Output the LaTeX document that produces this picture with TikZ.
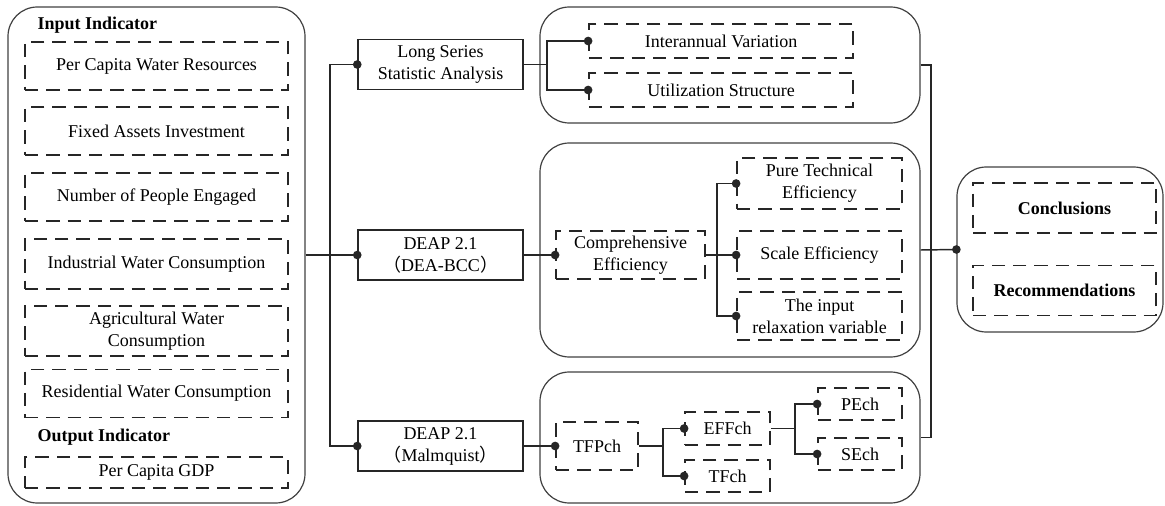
\documentclass[tikz,border=0pt]{standalone}
\usepackage{fontspec}
\setmainfont{Liberation Serif}
\newfontfamily\cjk{Noto Sans CJK SC}
\usetikzlibrary{calc}
\begin{document}
\begin{tikzpicture}[x=0.75pt,y=-0.75pt,
  font=\fontsize{13.5}{16.5}\selectfont,
  grp/.style={draw=black!75, line width=0.9pt, rounded corners=22pt, inner sep=0pt},
  dbox/.style={draw=black!85, line width=1.3pt, dash pattern=on 10pt off 6pt, align=center, inner sep=2pt},
  sbox/.style={draw=black!85, line width=1.1pt, align=center, inner sep=2pt},
  conn/.style={line width=1.1pt, black!85},
  jdot/.style={circle, fill=black!85, inner sep=0pt, minimum size=6.5pt},
  lab/.style={anchor=west, font=\fontsize{13.5}{16.5}\selectfont\bfseries}]
\useasboundingbox (0,0) rectangle (1165,506);

% ---- input / output indicators
\node[grp, minimum width=222.75pt, minimum height=372pt] (inp) at (156.5,255) {};
\node[lab] (inlab) at (33,25) {Input Indicator};
\node[dbox, minimum width=197.25pt, minimum height=36pt] (i1) at (156.5,66) {Per Capita Water Resources};
\node[dbox, minimum width=197.25pt, minimum height=36pt] (i2) at (156.5,131) {Fixed Assets Investment};
\node[dbox, minimum width=197.25pt, minimum height=36pt] (i3) at (156.5,197) {Number of People Engaged};
\node[dbox, minimum width=197.25pt, minimum height=38pt] (i4) at (156.5,264) {Industrial Water Consumption};
\node[dbox, minimum width=197.25pt, minimum height=38pt] (i5) at (156.5,331) {Agricultural Water\\Consumption};
\node[dbox, minimum width=197.25pt, minimum height=36pt] (i6) at (156.5,393.5) {Residential Water Consumption};
\node[lab] (outlab) at (33,437) {Output Indicator};
\node[dbox, minimum width=197.25pt, minimum height=23.25pt] (o1) at (156.5,472.5) {Per Capita GDP};

% ---- methods
\node[sbox, minimum width=123.75pt, minimum height=37.5pt] (ls) at (440.5,64.5) {Long Series\\Statistic Analysis};
\node[sbox, minimum width=123.75pt, minimum height=37.5pt] (bcc) at (440.5,255) {DEAP 2.1\\{\cjk （}DEA-BCC{\cjk ）}};
\node[sbox, minimum width=123.75pt, minimum height=37.5pt] (malm) at (440.5,446) {DEAP 2.1\\{\cjk （}Malmquist{\cjk ）}};

% ---- groups
\node[grp, minimum width=285pt, minimum height=87pt] (g1) at (730,65) {};
\node[grp, minimum width=285pt, minimum height=160.5pt] (g2) at (730,250) {};
\node[grp, minimum width=285pt, minimum height=98.25pt] (g3) at (730,437.5) {};
\node[grp, minimum width=154.5pt, minimum height=123.75pt] (g4) at (1060,249.5) {};

% ---- group 1
\node[dbox, minimum width=198pt, minimum height=25.5pt] (iv) at (721,41) {Interannual Variation};
\node[dbox, minimum width=198pt, minimum height=25.5pt] (us) at (721,90) {Utilization Structure};

% ---- group 2
\node[dbox, minimum width=111.75pt, minimum height=36pt] (ce) at (630.5,255) {Comprehensive\\Efficiency};
\node[dbox, minimum width=123.75pt, minimum height=38.25pt] (pte) at (819.5,183.5) {Pure Technical\\Efficiency};
\node[dbox, minimum width=123.75pt, minimum height=36pt] (se) at (819.5,255) {Scale Efficiency};
\node[dbox, minimum width=123.75pt, minimum height=36pt] (irv) at (819.5,316) {The input\\relaxation variable};

% ---- group 3
\node[dbox, minimum width=61.5pt, minimum height=36pt] (tfp) at (597,446) {TFPch};
\node[dbox, minimum width=63.75pt, minimum height=24.75pt] (eff) at (727.5,428.5) {EFFch};
\node[dbox, minimum width=63.75pt, minimum height=24pt] (tfc) at (727.5,476) {TFch};
\node[dbox, minimum width=63pt, minimum height=24pt] (pe) at (860,404) {PEch};
\node[dbox, minimum width=63pt, minimum height=24pt] (sech) at (860,454) {SEch};

% ---- group 4
\node[dbox, minimum width=137.25pt, minimum height=37.5pt, font=\fontsize{13.5}{16.5}\selectfont\bfseries] (con) at (1064.5,208) {Conclusions};
\node[dbox, minimum width=137.25pt, minimum height=37.5pt, font=\fontsize{13.5}{16.5}\selectfont\bfseries] (rec) at (1064.5,290.5) {Recommendations};

% ---- junction columns
\coordinate (tr) at (330,0);
\coordinate (j1) at (547,0);
\coordinate (j2) at (717,0);
\coordinate (j3) at (663,0);
\coordinate (j4) at (795,0);
\coordinate (j5) at (931,0);

% ---- connectors
\draw[conn] (inp.east |- bcc.west) -- (bcc.west);
\draw[conn] (ls.west) -- (ls.west -| tr) -- (malm.west -| tr) -- (malm.west);

\draw[conn] (ls.east) -- (ls.east -| j1);
\draw[conn] (iv.west) -- (iv.west -| j1) -- (us.west -| j1) -- (us.west);

\draw[conn] (bcc.east) -- (ce.west);
\draw[conn] (ce.east) -- (ce.east -| j2);
\draw[conn] (pte.west) -- (pte.west -| j2) -- (irv.west -| j2) -- (irv.west);
\draw[conn] (se.west -| j2) -- (se.west);

\draw[conn] (malm.east) -- (tfp.west);
\draw[conn] (tfp.east) -- (tfp.east -| j3);
\draw[conn] (eff.west) -- (eff.west -| j3) -- (tfc.west -| j3) -- (tfc.west);

\draw[conn] (eff.east) -- (eff.east -| j4);
\draw[conn] (pe.west) -- (pe.west -| j4) -- (sech.west -| j4) -- (sech.west);

\draw[conn] (g1.east) -- (g1.east -| j5) -- (g3.east -| j5) -- (g3.east);
\draw[conn] (g2.east) -- (g4.west);

% ---- dots
\node[jdot] (d1) at (ls.west) {};
\node[jdot] (d2) at (bcc.west) {};
\node[jdot] (d3) at (malm.west) {};
\node[jdot] (d4) at (iv.west) {};
\node[jdot] (d5) at (us.west) {};
\node[jdot] (d6) at (ce.west) {};
\node[jdot] (d7) at (pte.west) {};
\node[jdot] (d8) at (se.west) {};
\node[jdot] (d9) at (irv.west) {};
\node[jdot] (d10) at (tfp.west) {};
\node[jdot] (d11) at (eff.west) {};
\node[jdot] (d12) at (tfc.west) {};
\node[jdot] (d13) at (pe.west) {};
\node[jdot] (d14) at (sech.west) {};
\node[jdot] (d15) at (g4.west) {};
\end{tikzpicture}
\end{document}
